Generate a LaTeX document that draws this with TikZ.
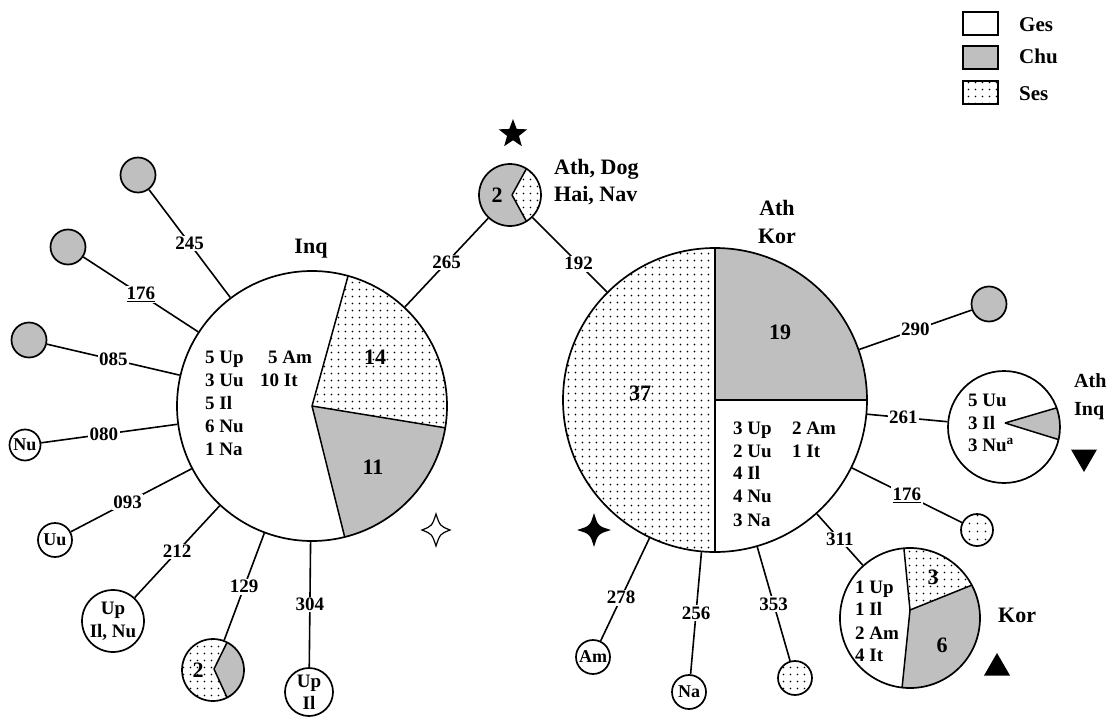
\documentclass[tikz,border=0pt]{standalone}
\usepackage{fontspec}
\setmainfont{Liberation Serif}
\usetikzlibrary{patterns.meta,shapes.geometric}
\definecolor{chu}{gray}{0.75}
\newcommand\myfs[1]{\fontsize{#1}{#1}\selectfont}
% style, vertex, centre, radius, start angle, end angle (visual, counter-clockwise)
\newcommand\slice[6]{\path[#1] (#2) -- ([shift={({-(#5)}:#4)}]#3) arc[start angle={-(#5)}, end angle={-(#6)}, radius=#4] -- cycle;}
% vertex, centre, radius, angle
\newcommand\spoke[4]{\draw[spokeline] (#1) -- ([shift={({-(#4)}:#3)}]#2);}
\tikzset{
  ring/.style={circle, draw, line width=1.7pt, inner sep=0pt},
  gfill/.style={fill=chu},
  dfill/.style={pattern={Dots[distance=7.4pt,radius=1pt]}},
  con/.style={line width=1.6pt},
  lbl/.style={fill=white, inner sep=1.5pt, font=\bfseries\myfs{19}},
  txt/.style={anchor=base west, inner sep=0pt, font=\bfseries\myfs{19}},
  num/.style={inner sep=0pt, font=\bfseries\myfs{22}},
  grp/.style={inner sep=0pt, font=\bfseries\myfs{22}},
  small/.style={font=\bfseries\myfs{18}},
  spokeline/.style={line width=1.5pt},
  legbox/.style={draw, line width=1.4pt, minimum width=35pt, minimum height=23pt, inner sep=0pt},
  legtxt/.style={anchor=west, inner sep=0pt, font=\bfseries\myfs{21}},
}
\begin{document}
\begin{tikzpicture}[x=1pt,y=-1pt]
\fill[white] (0,0) rectangle (1112,717);
\useasboundingbox (0,0) rectangle (1112,717);

% ---------- pie fills ----------
\slice{gfill}{312,406}{312,406}{135}{-76}{-9.3}
\slice{dfill}{312,406}{312,406}{135}{-9.3}{74.5}
\slice{gfill}{715,400}{715,400}{152}{0}{90}
\slice{dfill}{715,400}{715,400}{152}{90}{270}
\slice{gfill}{512,195}{510,195}{31}{58}{302}
\slice{dfill}{512,195}{510,195}{31}{-58}{58}
\slice{gfill}{214,669}{213,670}{31}{-63}{63}
\slice{dfill}{214,669}{213,670}{31}{63}{297}
\slice{gfill}{1005,423}{1004,427}{56}{-13}{20}
\slice{dfill}{910,610}{910,618}{70}{28}{95}
\slice{gfill}{910,610}{910,618}{70}{-96.5}{28}

% ---------- spokes ----------
\spoke{312,406}{312,406}{135}{74.5}
\spoke{312,406}{312,406}{135}{-9.3}
\spoke{312,406}{312,406}{135}{-76}
\spoke{715,400}{715,400}{152}{0}
\spoke{715,400}{715,400}{152}{90}
\spoke{715,400}{715,400}{152}{270}
\spoke{512,195}{510,195}{31}{58}
\spoke{512,195}{510,195}{31}{-58}
\spoke{214,669}{213,670}{31}{63}
\spoke{214,669}{213,670}{31}{-63}
\spoke{1005,423}{1004,427}{56}{-13}
\spoke{1005,423}{1004,427}{56}{20}
\spoke{910,610}{910,618}{70}{28}
\spoke{910,610}{910,618}{70}{95}
\spoke{910,610}{910,618}{70}{-96.5}

% ---------- circles ----------
\node[ring, minimum size=270pt] (L) at (312,406) {};
\node[ring, minimum size=304pt] (R) at (715,400) {};
\node[ring, minimum size=62pt] (T) at (510,195) {};
\node[ring, gfill, minimum size=35pt] (g1) at (138,175) {};
\node[ring, gfill, minimum size=35pt] (g2) at (68,247) {};
\node[ring, gfill, minimum size=35pt] (g3) at (29,340) {};
\node[ring, small, minimum size=31pt] (nu) at (25,445) {Nu};
\node[ring, small, minimum size=34pt] (uu) at (55,540) {Uu};
\node[ring, minimum size=62pt, align=center, font=\bfseries\fontsize{19}{23}\selectfont] (upilnu) at (113,621) {Up\\Il, Nu};
\node[ring, minimum size=62pt] (p129) at (213,670) {};
\node[ring, minimum size=48pt, align=center, font=\bfseries\fontsize{19}{22}\selectfont] (upil) at (309,692) {Up\\Il};
\node[ring, gfill, minimum size=35pt] (g4) at (989,304) {};
\node[ring, minimum size=112pt] (athinq) at (1004,427) {};
\node[ring, dfill, minimum size=32pt] (d176) at (977,530) {};
\node[ring, minimum size=140pt] (kor) at (910,618) {};
\node[ring, small, minimum size=34pt] (am) at (593,657) {Am};
\node[ring, small, minimum size=34pt] (na) at (689,692) {Na};
\node[ring, dfill, minimum size=34pt] (d353) at (795,678) {};

% ---------- connectors ----------
\draw[con] (L) -- node[lbl]{265} (T);
\draw[con] (R) -- node[lbl, pos=0.38]{192} (T);
\draw[con] (L) -- node[lbl]{245} (g1);
\draw[con] (L) -- node[lbl]{\underline{176}} (g2);
\draw[con] (L) -- node[lbl]{085} (g3);
\draw[con] (L) -- node[lbl, pos=0.54]{080} (nu);
\draw[con] (L) -- node[lbl, pos=0.53]{093} (uu);
\draw[con] (L) -- node[lbl]{212} (upilnu);
\draw[con] (L) -- node[lbl]{129} (p129);
\draw[con] (L) -- node[lbl]{304} (upil);
\draw[con] (R) -- node[lbl]{290} (g4);
\draw[con] (R) -- node[lbl, pos=0.45]{261} (athinq);
\draw[con] (R) -- node[lbl]{\underline{176}} (d176);
\draw[con] (R) -- node[lbl]{311} (kor);
\draw[con] (R) -- node[lbl, pos=0.58]{278} (am);
\draw[con] (R) -- node[lbl]{256} (na);
\draw[con] (R) -- node[lbl]{353} (d353);

% ---------- texts inside pies ----------
\node[txt] (l1) at (205,363) {5 Up};
\node[txt] (l2) at (205,386) {3 Uu};
\node[txt] (l3) at (205,409) {5 Il};
\node[txt] (l4) at (205,432) {6 Nu};
\node[txt] (l5) at (205,455) {1 Na};
\node[txt] (l6) at (268,363) {5 Am};
\node[txt] (l7) at (260,386) {10 It};
\node[num] (n14) at (375,357) {14};
\node[num] (n11) at (373,467) {11};

\node[txt] (r1) at (733,434) {3 Up};
\node[txt] (r2) at (733,457) {2 Uu};
\node[txt] (r3) at (733,479) {4 Il};
\node[txt] (r4) at (733,502) {4 Nu};
\node[txt] (r5) at (733,526) {3 Na};
\node[txt] (r6) at (792,434) {2 Am};
\node[txt] (r7) at (792,457) {1 It};
\node[num] (n19) at (780,332) {19};
\node[num] (n37) at (640,393) {37};

\node[num] (n2a) at (497,195) {2};
\node[num] (n2b) at (198,670) {2};

\node[txt] (a1) at (968,406) {5 Uu};
\node[txt] (a2) at (968,429) {3 Il};
\node[txt] (a3) at (968,451) {3 Nu\textsuperscript{a}};

\node[txt] (k1) at (855,593) {1 Up};
\node[txt] (k2) at (855,615) {1 Il};
\node[txt] (k3) at (855,639) {2 Am};
\node[txt] (k4) at (855,661) {4 It};
\node[num] (n3) at (933,577) {3};
\node[num] (n6) at (942,645) {6};

% ---------- group labels ----------
\node[grp, anchor=base] (ginq) at (311,253) {Inq};
\node[grp, anchor=base west] (gad) at (554,174) {Ath, Dog};
\node[grp, anchor=base west] (ghn) at (554,201) {Hai, Nav};
\node[grp, anchor=base] (gath) at (777,215) {Ath};
\node[grp, anchor=base] (gkor) at (777,243) {Kor};
\node[grp, anchor=base west, font=\bfseries\myfs{20}] (gath2) at (1074,387) {Ath};
\node[grp, anchor=base west, font=\bfseries\myfs{20}] (ginq2) at (1074,415) {Inq};
\node[grp, anchor=base west] (gkor2) at (998,622) {Kor};

% ---------- symbols ----------
\node[star, star points=5, star point ratio=2.4, fill=black, minimum size=30pt, inner sep=0pt] (sym1) at (513,134) {};
\node[regular polygon, regular polygon sides=3, shape border rotate=180, fill=black, minimum size=30pt, inner sep=0pt] (sym2) at (1084,457) {};
\node[regular polygon, regular polygon sides=3, fill=black, minimum size=30pt, inner sep=0pt] (sym3) at (997,668) {};
\begin{scope}[shift={(436,530)}]
\draw[line width=1.2pt] (0,-16) .. controls (4,-4) .. (14,0) .. controls (4,4) .. (0,16) .. controls (-4,4) .. (-14,0) .. controls (-4,-4) .. (0,-16) -- cycle;
\end{scope}
\begin{scope}[shift={(594,530)}]
\fill[black] (0,-17) .. controls (4,-4) .. (17,0) .. controls (4,4) .. (0,17) .. controls (-4,4) .. (-17,0) .. controls (-4,-4) .. (0,-17) -- cycle;
\end{scope}

% ---------- legend ----------
\node[legbox] (lg1) at (980.5,23.5) {};
\node[legbox, gfill] (lg2) at (980.5,57.5) {};
\node[legbox, dfill] (lg3) at (980.5,92.5) {};
\node[legtxt] (lt1) at (1019,25) {Ges};
\node[legtxt] (lt2) at (1019,56.5) {Chu};
\node[legtxt] (lt3) at (1019,93.5) {Ses};
\end{tikzpicture}
\end{document}
